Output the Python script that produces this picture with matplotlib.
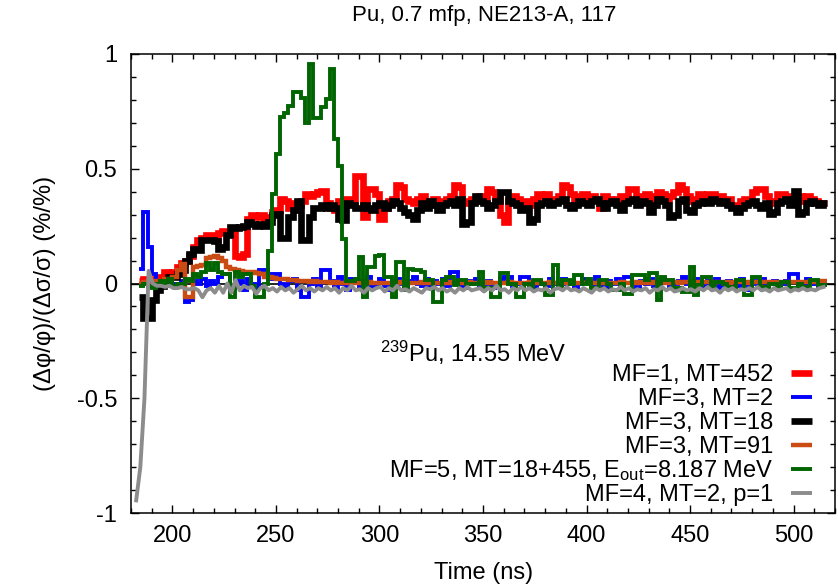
import numpy as np
import matplotlib
matplotlib.use("Agg")
import matplotlib.pyplot as plt
from matplotlib.ticker import MultipleLocator, FuncFormatter

plt.rcParams["font.family"] = ["Liberation Sans", "DejaVu Sans"]
plt.rcParams["mathtext.fontset"] = "custom"
plt.rcParams["mathtext.rm"] = "Liberation Sans"
plt.rcParams["mathtext.it"] = "Liberation Sans:italic"
plt.rcParams["mathtext.default"] = "regular"
plt.rcParams["axes.unicode_minus"] = False

# --- time bins (ns) ---
T0 = 184.0          # first bin edge of the histograms
BIN = 2.0           # bin width
T0_GRAY = 182.5     # first point of the MF=4 curve

# --- sensitivity profiles, one value per 2 ns bin ---
mf1_mt452 = [
    0.01, 0.02, 0.01, 0.02, 0.02, 0.03, 0.05, 0.04, 0.05, 0.07,
    0.09, 0.10, 0.12, 0.16, 0.19, 0.20, 0.21, 0.21, 0.19, 0.22,
    0.23, 0.23, 0.22, 0.12, 0.115, 0.13, 0.28, 0.30, 0.29, 0.30,
    0.28, 0.29, 0.31, 0.32, 0.37, 0.36, 0.33, 0.35, 0.34, 0.36,
    0.39, 0.38, 0.39, 0.40, 0.405, 0.35, 0.33, 0.32, 0.36, 0.36,
    0.37, 0.36, 0.47, 0.47, 0.29, 0.41, 0.41, 0.39, 0.28, 0.33,
    0.36, 0.37, 0.43, 0.42, 0.37, 0.36, 0.35, 0.37, 0.38, 0.36,
    0.35, 0.37, 0.34, 0.36, 0.37, 0.38, 0.43, 0.42, 0.36, 0.35,
    0.37, 0.36, 0.38, 0.36, 0.41, 0.40, 0.37, 0.30, 0.27, 0.36,
    0.38, 0.37, 0.35, 0.36, 0.34, 0.37, 0.39, 0.38, 0.39, 0.37,
    0.36, 0.38, 0.43, 0.42, 0.39, 0.37, 0.38, 0.39, 0.36, 0.38,
    0.37, 0.33, 0.38, 0.37, 0.36, 0.37, 0.38, 0.36, 0.41, 0.41,
    0.37, 0.38, 0.39, 0.36, 0.38, 0.40, 0.39, 0.37, 0.38, 0.40,
    0.43, 0.41, 0.38, 0.36, 0.37, 0.39, 0.38, 0.39, 0.39, 0.38,
    0.38, 0.37, 0.37, 0.34, 0.33, 0.36, 0.37, 0.36, 0.40, 0.41,
    0.41, 0.38, 0.36, 0.35, 0.39, 0.39, 0.38, 0.36, 0.37, 0.38,
    0.36, 0.38, 0.37, 0.36, 0.35, 0.35,
]

mf3_mt2 = [
    0.065, 0.31, 0.16, 0.04, 0.01, 0.0, -0.01, 0.02, 0.0, -0.01,
    0.01, -0.08, -0.07, 0.01, 0.0, 0.02, -0.01, 0.01, 0.0, 0.03,
    0.04, 0.04, -0.02, 0.0, 0.01, -0.03, 0.02, 0.0, -0.02, 0.06,
    0.06, 0.02, 0.04, 0.04, 0.0, -0.02, 0.01, 0.02, -0.03, -0.06,
    -0.06, 0.0, 0.02, -0.01, 0.06, 0.06, 0.01, -0.02, 0.03, 0.0,
    -0.03, 0.02, 0.01, -0.02, 0.01, 0.03, -0.02, 0.0, 0.02, -0.01,
    -0.03, 0.01, 0.02, 0.0, -0.02, 0.01, 0.03, 0.0, -0.01, 0.02,
    -0.02, 0.01, 0.0, 0.02, -0.01, 0.05, 0.05, 0.0, -0.02, 0.01,
    0.0, 0.02, -0.01, 0.0, 0.01, -0.02, 0.0, 0.02, 0.03, 0.03,
    -0.01, 0.0, 0.03, 0.03, 0.0, -0.02, 0.01, 0.0, -0.01, 0.02,
    0.0, -0.01, 0.02, 0.0, 0.01, -0.02, 0.0, 0.02, 0.01, -0.01,
    0.03, 0.0, -0.02, 0.01, 0.0, 0.02, -0.01, 0.03, 0.03, 0.0,
    -0.02, 0.01, 0.0, 0.02, -0.01, 0.0, 0.02, 0.01, -0.02, 0.0,
    0.01, 0.03, 0.0, -0.01, 0.02, 0.0, -0.01, 0.01, 0.0, 0.02,
    -0.02, 0.0, 0.01, 0.0, -0.01, 0.02, 0.0, -0.03, 0.01, 0.0,
    0.02, -0.01, 0.0, 0.01, -0.02, 0.0, 0.01, 0.043, 0.043, 0.0,
    -0.01, 0.02, 0.0, 0.01, -0.01, 0.0,
]

mf3_mt18 = [
    -0.06, -0.15, -0.15, -0.07, -0.03, -0.01, 0.01, 0.03, 0.03, 0.04,
    0.06, 0.10, 0.13, 0.15, 0.145, 0.19, 0.19, 0.19, 0.185, 0.15,
    0.16, 0.21, 0.245, 0.24, 0.245, 0.25, 0.27, 0.26, 0.25, 0.26,
    0.25, 0.27, 0.30, 0.305, 0.20, 0.20, 0.29, 0.32, 0.36, 0.19,
    0.19, 0.29, 0.33, 0.33, 0.34, 0.33, 0.34, 0.33, 0.28, 0.275,
    0.35, 0.34, 0.33, 0.33, 0.34, 0.33, 0.32, 0.34, 0.35, 0.33,
    0.34, 0.36, 0.35, 0.33, 0.31, 0.30, 0.28, 0.32, 0.35, 0.33,
    0.36, 0.34, 0.32, 0.34, 0.35, 0.36, 0.34, 0.37, 0.26, 0.27,
    0.35, 0.38, 0.36, 0.35, 0.33, 0.34, 0.36, 0.40, 0.40, 0.36,
    0.35, 0.34, 0.32, 0.33, 0.27, 0.28, 0.34, 0.35, 0.36, 0.34,
    0.35, 0.36, 0.37, 0.34, 0.33, 0.34, 0.36, 0.35, 0.34, 0.36,
    0.37, 0.35, 0.33, 0.35, 0.36, 0.34, 0.32, 0.35, 0.36, 0.37,
    0.34, 0.36, 0.35, 0.31, 0.34, 0.37, 0.36, 0.34, 0.29, 0.30,
    0.36, 0.37, 0.32, 0.31, 0.34, 0.35, 0.36, 0.35, 0.37, 0.36,
    0.35, 0.36, 0.34, 0.33, 0.31, 0.33, 0.34, 0.35, 0.36, 0.34,
    0.33, 0.35, 0.305, 0.31, 0.35, 0.36, 0.37, 0.34, 0.405, 0.305,
    0.31, 0.35, 0.36, 0.35, 0.34, 0.35,
]

mf3_mt91 = [
    0.0, 0.005, 0.01, 0.01, 0.005, 0.01, 0.02, 0.02, 0.03, 0.06,
    0.087, -0.06, -0.06, 0.07, 0.075, 0.08, 0.11, 0.115, 0.12, 0.11,
    0.10, 0.07, 0.065, 0.06, 0.055, 0.05, 0.05, 0.05, 0.045, 0.04,
    0.03, 0.03, 0.025, 0.02, 0.02, 0.02, 0.015, 0.015, 0.012, 0.01,
    0.01, 0.008, 0.01, 0.006, 0.005, 0.006, 0.004, 0.005, 0.003, 0.004,
    0.005, 0.003, 0.002, 0.004, 0.003, 0.005, 0.002, 0.003, 0.004, 0.002,
    0.003, 0.004, 0.002, 0.005, 0.003, 0.002, 0.004, 0.003, 0.005, 0.002,
    0.004, 0.003, 0.002, 0.004, 0.005, 0.003, 0.002, 0.004, 0.003, 0.005,
    0.003, 0.002, 0.004, 0.003, 0.005, 0.002, 0.004, 0.003, 0.002, 0.005,
    0.003, 0.004, 0.002, 0.003, 0.005, 0.004, 0.002, 0.003, 0.004, 0.005,
    0.003, 0.002, 0.004, 0.005, 0.003, 0.004, 0.002, 0.003, 0.005, 0.004,
    0.003, 0.005, 0.004, 0.002, 0.003, 0.004, 0.005, 0.003, 0.004, 0.006,
    0.004, 0.005, 0.003, 0.006, 0.004, 0.005, 0.003, 0.004, 0.006, 0.005,
    0.004, 0.006, 0.005, 0.003, 0.005, 0.004, 0.006, 0.005, 0.004, 0.006,
    0.005, 0.007, 0.004, 0.006, 0.005, 0.007, 0.006, 0.004, 0.006, 0.007,
    0.005, 0.007, 0.006, 0.008, 0.005, 0.007, 0.006, 0.008, 0.007, 0.006,
    0.008, 0.007, 0.009, 0.008, 0.01, 0.012,
]

mf5_eout = [
    -0.01, 0.0, -0.01, -0.02, 0.0, 0.01, 0.0, 0.02, -0.01, 0.0,
    0.0, 0.02, 0.01, 0.04, 0.03, 0.05, 0.09, 0.06, 0.09, 0.05,
    0.04, 0.04, -0.06, 0.05, 0.03, 0.04, 0.04, -0.01, -0.06, -0.06,
    0.0, 0.14, 0.39, 0.565, 0.725, 0.745, 0.775, 0.835, 0.835, 0.81,
    0.70, 0.957, 0.72, 0.72, 0.77, 0.805, 0.935, 0.63, 0.51, 0.195,
    0.01, 0.01, 0.02, 0.115, -0.06, 0.07, 0.07, 0.12, 0.123, 0.03,
    0.03, -0.058, 0.094, 0.094, -0.03, 0.065, 0.058, 0.058, 0.05, 0.015,
    0.015, -0.08, -0.08, 0.015, 0.03, 0.03, -0.007, 0.015, 0.015, 0.0,
    0.0, 0.0, 0.05, -0.02, -0.02, -0.058, -0.058, 0.044, 0.044, 0.0,
    0.0, -0.058, -0.058, 0.0, -0.015, 0.015, 0.015, 0.0, -0.05, -0.05,
    0.08, -0.02, 0.015, 0.015, 0.0, 0.036, 0.036, 0.0, 0.02, -0.02,
    -0.02, 0.015, 0.015, 0.0, -0.03, -0.03, 0.0, -0.044, -0.044, 0.036,
    0.036, 0.036, 0.015, 0.044, 0.044, -0.073, 0.03, 0.015, 0.015, -0.02,
    -0.02, -0.036, -0.036, 0.073, -0.05, -0.007, 0.03, 0.03, -0.02, 0.007,
    0.007, 0.0, -0.015, -0.015, 0.015, 0.015, -0.05, -0.05, 0.03, 0.03,
    -0.015, -0.015, 0.0, 0.0, -0.02, 0.007, 0.007, -0.02, -0.02, 0.0,
    -0.015, -0.015, 0.015, 0.015, -0.007, -0.007,
]

mf4_p1 = [
    -0.945, -0.80, -0.50, 0.055, 0.0, -0.01, -0.01, -0.015, -0.01, -0.02,
    -0.02, -0.015, -0.025, -0.025, -0.02, -0.03, -0.06, -0.03, -0.02, -0.04,
    -0.01, -0.04, 0.0, -0.04, 0.015, -0.03, -0.01, -0.02, -0.015, -0.045,
    -0.02, -0.01, -0.03, -0.02, -0.035, -0.015, -0.03, -0.02, -0.04, -0.025,
    -0.01, -0.03, -0.02, -0.035, -0.02, -0.03, -0.015, -0.03, -0.02, -0.04,
    -0.02, -0.03, -0.01, -0.03, -0.025, -0.04, -0.02, -0.03, -0.02, -0.015,
    -0.035, -0.02, -0.03, -0.01, -0.03, -0.025, -0.035, -0.02, -0.03, -0.04,
    -0.02, -0.025, -0.015, -0.03, -0.02, -0.035, -0.025, -0.04, -0.02, -0.03,
    -0.015, -0.03, -0.025, -0.02, -0.035, -0.02, -0.03, -0.01, -0.03, -0.025,
    -0.04, -0.02, -0.03, -0.015, -0.03, -0.02, -0.035, -0.025, -0.03, -0.02,
    -0.04, -0.025, -0.02, -0.03, -0.015, -0.03, -0.025, -0.035, -0.02, -0.03,
    -0.04, -0.02, -0.03, -0.02, -0.035, -0.025, -0.03, -0.015, -0.03, -0.02,
    -0.035, -0.025, -0.03, -0.02, -0.04, -0.025, -0.03, -0.015, -0.03, -0.02,
    -0.035, -0.03, -0.02, -0.03, -0.025, -0.035, -0.02, -0.03, -0.015, -0.03,
    -0.025, -0.04, -0.02, -0.03, -0.02, -0.035, -0.025, -0.03, -0.02, -0.03,
    -0.015, -0.03, -0.025, -0.035, -0.02, -0.03, -0.025, -0.02, -0.035, -0.025,
    -0.03, -0.02, -0.03, -0.025, -0.03, -0.02, -0.015,
]

labels = [
    "MF=1, MT=452",
    "MF=3, MT=2",
    "MF=3, MT=18",
    "MF=3, MT=91",
    "MF=5, MT=18+455, E$_{out}$=8.187 MeV",
    "MF=4, MT=2, p=1",
]
colors = ["#ff0000", "#0000ff", "#000000", "#c84c14", "#006400", "#8c8c8c"]
widths = [4.8, 2.8, 4.8, 3.2, 2.8, 2.8]

title = "Pu, 0.7 mfp, NE213-A, 117"
note = "$^{239}$Pu, 14.55 MeV"

W, H = 838, 587
fig = plt.figure(figsize=(W / 100, H / 100), dpi=100)
ax = fig.add_axes([131 / W, 74 / H, 704 / W, 459 / H])

ax.axhline(0, color="black", lw=1.2, zorder=1)

hist_series = [mf1_mt452, mf3_mt2, mf3_mt18, mf3_mt91, mf5_eout]
for k, vals in enumerate(hist_series):
    edges = T0 + BIN * np.arange(len(vals) + 1)
    ax.stairs(vals, edges, baseline=None, color=colors[k], lw=widths[k], zorder=2 + k)

t_gray = T0_GRAY + BIN * np.arange(len(mf4_p1))
ax.plot(t_gray, mf4_p1, color=colors[5], lw=widths[5], zorder=8)

ax.set_xlim(180, 520)
ax.set_ylim(-1, 1)
ax.xaxis.set_major_locator(MultipleLocator(50))
ax.xaxis.set_minor_locator(MultipleLocator(10))
ax.yaxis.set_major_locator(MultipleLocator(0.5))
ax.yaxis.set_minor_locator(MultipleLocator(0.1))
ax.yaxis.set_major_formatter(FuncFormatter(lambda v, _: f"{v + 0:g}"))
ax.tick_params(which="both", direction="in", top=True, right=True, width=1.0)
ax.tick_params(which="major", length=6, labelsize=17)
ax.tick_params(which="minor", length=3.5)
ax.tick_params(axis="x", pad=9)
ax.tick_params(axis="y", pad=10)
for s in ax.spines.values():
    s.set_linewidth(1.1)

# gnuplot-style key: text right aligned, sample to its right
for k, lab in enumerate(labels):
    yy = 0.305 - k * 0.0523
    ax.text(0.912, yy - 0.017, lab, transform=ax.transAxes, ha="right",
            va="baseline", fontsize=17)
    ax.plot([0.9375, 0.967], [yy, yy], transform=ax.transAxes,
            color=colors[k], lw=widths[k], solid_capstyle="butt", clip_on=False)

ax.text(0.354, 0.329, note, transform=ax.transAxes, ha="left", va="baseline", fontsize=17)

fig.text(484 / W, 1 - 15 / H, title, ha="center", va="center", fontsize=16)
fig.text(484 / W, 1 - 573 / H, "Time (ns)", ha="center", va="center", fontsize=17)
fig.text(45 / W, 1 - 283 / H, "(Δφ/φ)/(Δσ/σ) (%/%)", ha="center", va="center",
         rotation=90, fontsize=17)

fig.savefig("out.png", dpi=100)
